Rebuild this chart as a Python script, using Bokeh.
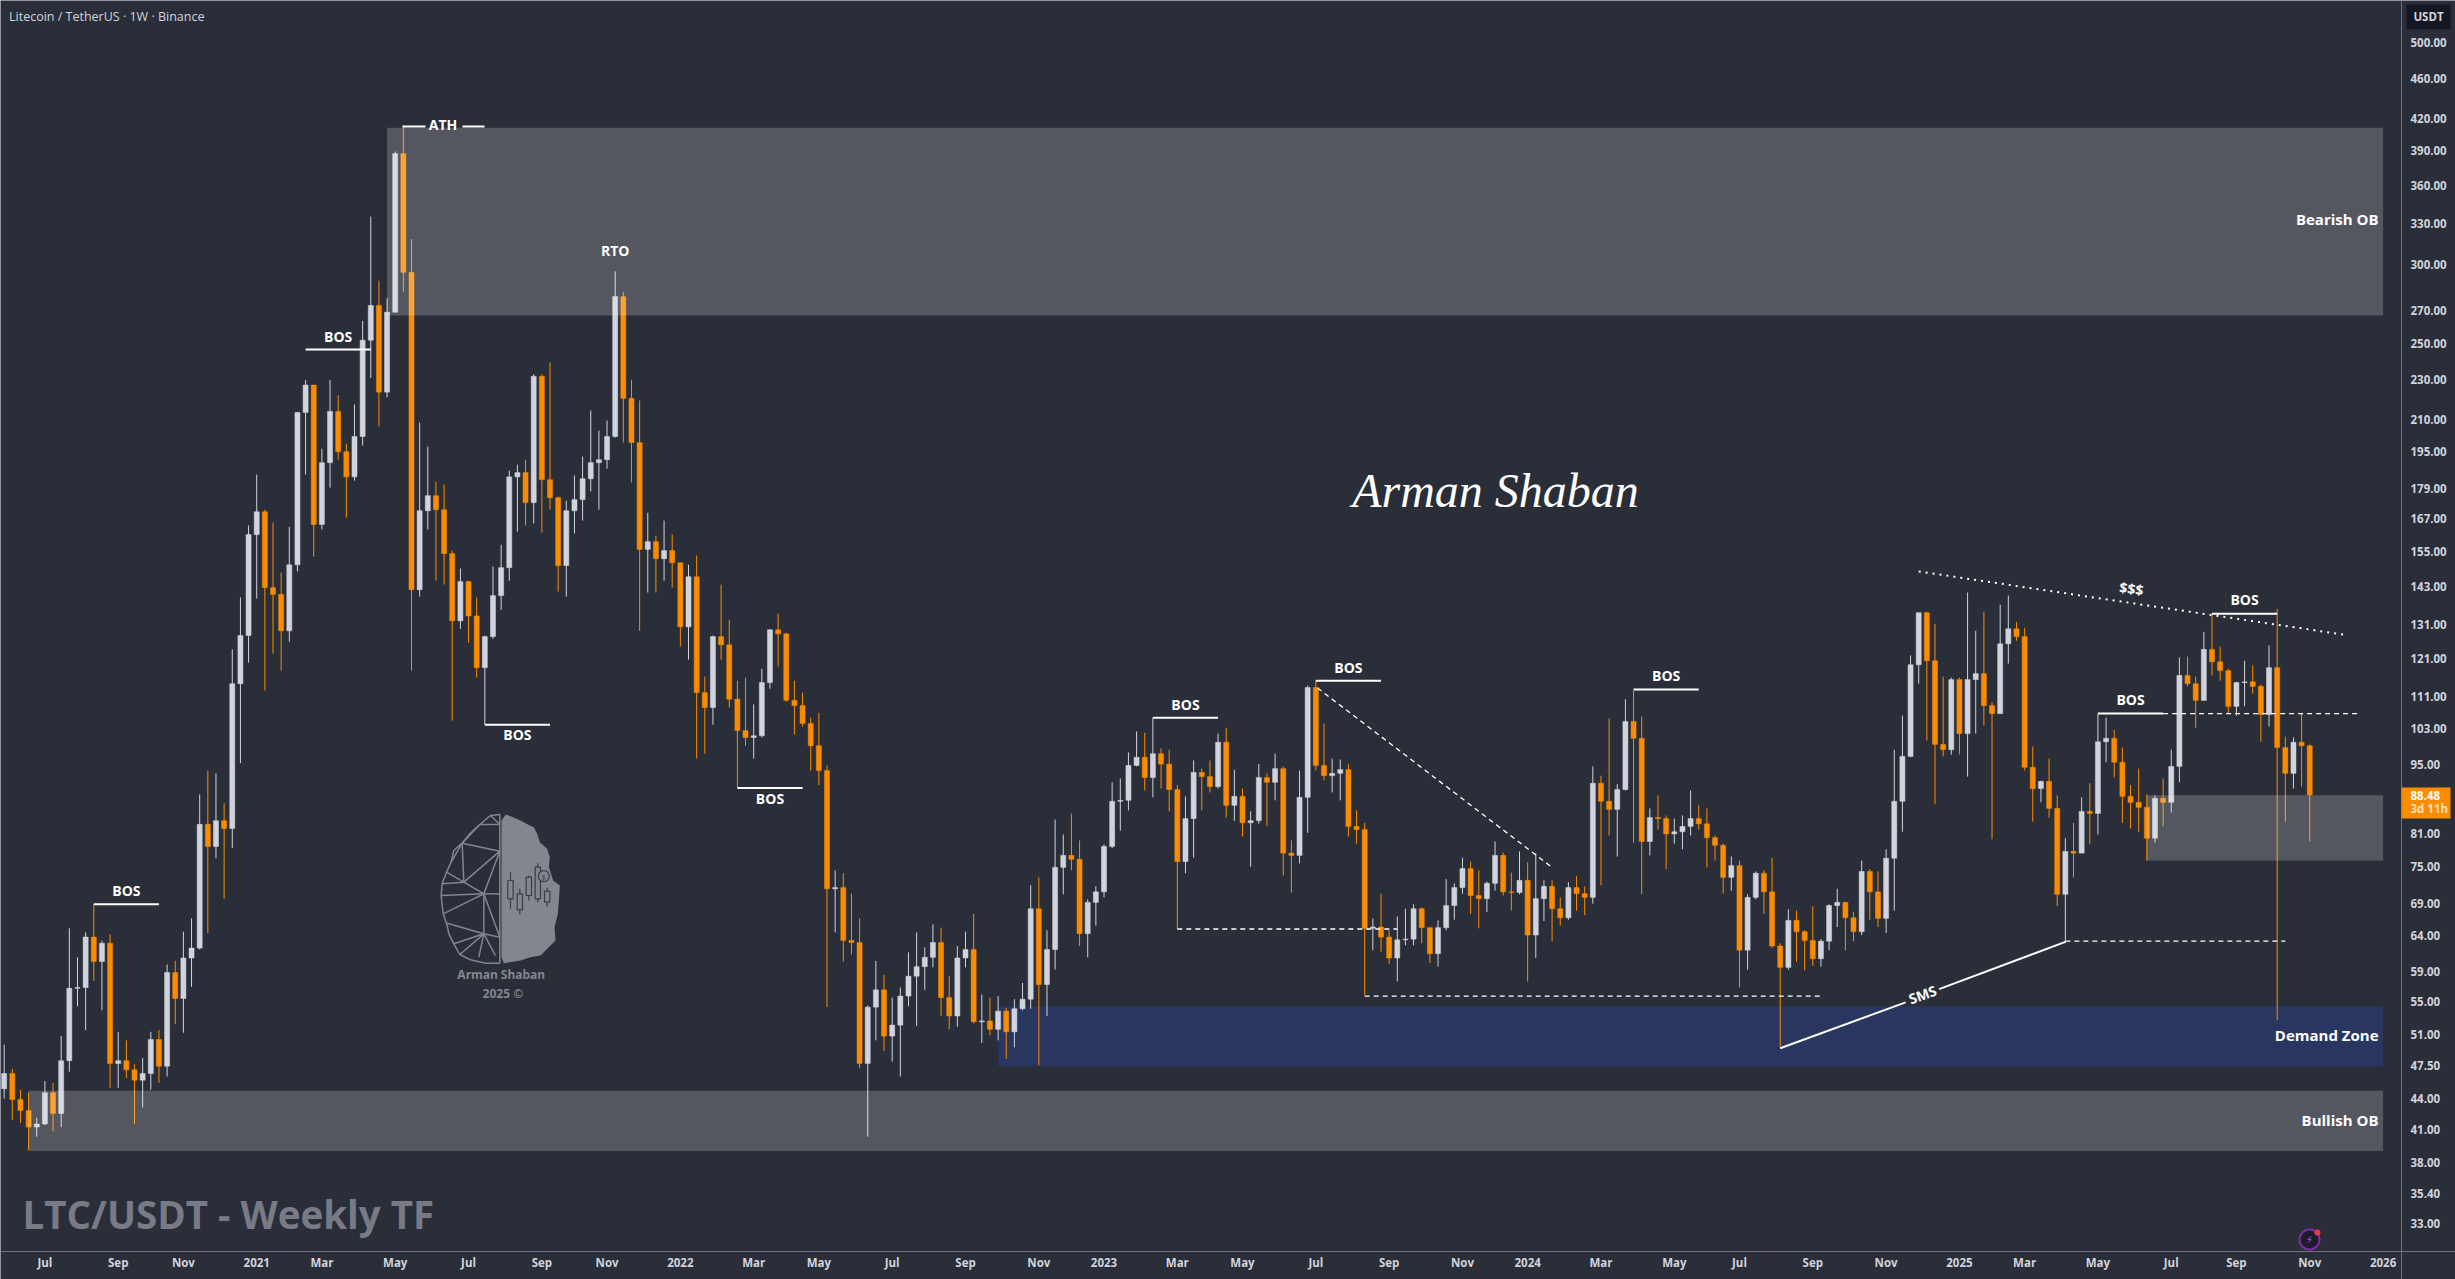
import math
import pandas as pd
from bokeh.core.properties import value
from bokeh.embed import file_html
from bokeh.models import ColumnDataSource, FixedTicker, PrintfTickFormatter, Range1d
from bokeh.plotting import figure
from bokeh.resources import INLINE

# ---------- data (weekly LTC/USDT) ----------
first_week = "2020-06-01"
first_open = 45.0
closes = [
46.6,43.9,42.8,41.2,41.5,44.6,42.5,48.0,56.7,56.8,63.8,60.3,62.9,47.7,48.0,47.0,45.9,46.6,50.4,47.4,
58.8,55.4,60.8,62.2,82.7,78.6,83.4,81.9,114.3,127.7,161.1,169.8,142.6,140.4,129.1,150.3,213.4,227.3,164.9,190.1,
213.9,195,184,201.9,252,273,223.6,268.8,387.2,294.6,141.9,170.2,176.2,170.6,154.2,132.1,144.6,133.6,118.6,127.4,
140,149.3,184,185.8,173.4,231.9,182.8,175.4,150,170.2,174.6,183.2,190.1,191.4,201.9,278.6,220.4,199.1,155.7,158.5,
152.4,155.3,151,130.3,146.2,112,108.2,127.4,125,110.3,102.6,101,101.4,114.6,129.4,128.2,110,108.7,104.3,99.1,
93.6,71.3,71.5,63.3,63,47.7,54.3,56.5,50.8,52.1,55.7,58.3,59.6,60.9,63,55.5,53.2,60.8,62,52.5,
52.6,51.6,53.8,51.3,54.1,55.3,68.1,57.2,62,74.9,77,76.3,64.3,69.1,70.8,78.6,87.2,87.4,94.7,96.5,
92.1,97.3,95,89.6,75.9,83.8,93.2,92.3,90.2,99.9,86.4,88.2,83,83.4,92.1,91.1,94,77.4,77,88,
113.3,94.7,92.5,93,93.8,82.3,81.7,65.1,65.3,63.8,60.8,63.4,63.5,68.1,65.2,61.4,65.2,68.6,71.5,74.7,
70.2,69.7,72.2,77,70.8,70.7,72.7,64.1,69.7,71.7,68.1,66.7,71.5,70.5,69.9,90.9,87.2,85.6,89.6,104.8,
100.8,79.5,84,83.8,80.9,81.3,82.3,83.8,82.8,80.2,78.8,73.2,75.2,61.9,69.9,73.9,70.8,62.5,59.5,66.3,
64.6,63.3,60.7,63.2,68.6,69.1,66.7,64.6,74.2,70.8,66.6,76.5,87.2,96.7,119.4,134.6,120.5,99.4,98.2,115.4,
101.9,115.4,117,108.7,106.7,125.3,129.7,127.4,94.3,89.8,91.3,85.8,70.4,77.7,77.4,85.2,84.8,100,100.8,95.4,
88.2,87,86,80.1,87.8,87,94.5,116.5,114.3,110,123.7,120.2,117.8,108.5,114.6,114.8,113.6,106.5,118.6,98.7,
93,99.9,99.1,88.48]
highs = [
49.8,47.1,44.9,44.6,42.1,45.8,45.6,50.8,65.1,60.9,64.5,68.8,63.3,64.2,51.3,50.3,47.6,48.3,51.3,51.5,
59.9,60.4,64.6,66.6,88.6,93.6,93,86.8,123.7,139.4,164.5,185,170.6,165.6,147.6,164,213.6,230,227.3,196.3,
230,222,198.6,217.4,263.4,335,289,277.5,389,413,318,208.5,197.3,182,180.8,155.3,149,144.9,139.4,127.7,
149.7,157.4,186.7,189.2,191.4,233,233,239.5,175.8,174.2,184.5,192.8,214.4,204.7,209.5,295.3,281.7,230,219.4,169.4,
160.7,166.4,161.1,151,150.3,153.5,116.2,127.7,143.6,132.4,115.1,115.9,109,118.3,129.6,134.3,128.5,115.1,112,105.7,
106.9,94.7,74.4,73.9,70.5,66.6,54.5,60.4,58.5,55.5,56.8,61.6,64.5,62.3,65.7,65.2,58.3,62.5,64.6,67.3,
55.9,55.5,55.7,54.2,55.3,57.4,71.9,73.2,64.8,83.6,80.8,84.8,79.7,69.6,71.7,79,91.1,91.9,97.6,102.4,
102.1,105.7,98.5,98.2,90.5,88.2,95.8,94,95.8,101.9,103.3,93.8,89.8,85.2,95,93,97.3,94.5,79.7,93.6,
113.8,115.1,104.3,96.2,96,95,85.4,83,66.6,70.5,64.8,66.9,68.1,68.8,68.3,65.2,66.3,72.9,72.2,76.6,
75.9,74.4,72.5,79.5,77.5,74,77.7,75.8,77.4,72.7,72.7,69.9,72.4,73.4,71.7,94.5,92.5,105.5,90.7,110.3,
112.5,106,85.8,88.4,84.4,83.8,84.4,89.4,86.4,85.8,80.6,79.1,76.8,76.1,70.4,74.2,74.4,76.6,62.9,68,
67.8,64.8,68.5,63.5,68.8,71.3,69.2,67.6,76.1,74.6,74.2,78.1,98.2,106.2,122,134.6,134.9,131.2,116.2,115.9,
115.9,141,129.1,134.9,109.5,137.1,140,131.8,130,98.9,91.4,96.2,88.4,80.1,83,88,90.9,106.7,105.7,102.8,
98.7,90.5,94,88.6,88.4,91.9,98.2,121.4,121.7,116.2,128.8,134.3,124.5,118.3,114.8,120.5,119.2,114,124.8,135.8,
101.2,101,106.7,99.4]
lows = [
44,41.9,41.6,39.1,40.3,41.4,40.8,41.2,46.8,54.4,51.5,57.7,53.9,45.1,45.1,46.1,41.5,43.1,44.9,45.6,
46.3,52.2,51.2,56.9,62,64.4,76.5,69.7,78.3,95.2,120,139,112.5,122.5,117.8,125.9,148,185,153.1,163,
179.5,191.4,167.5,182.4,197.7,231,206.6,221,268.5,281.7,117.8,139.7,163,144.9,143.6,105,129.7,125.6,115.9,104,
126.8,135.5,144.9,162.2,164.5,165.3,161.9,170.6,141.3,139.7,161.5,166.4,177.9,170.6,187.5,201.4,199.1,181.6,129.1,141,
141,144.9,142.6,124.5,120.8,96.2,97.3,104,120.8,108.2,90,99.1,96.2,101,113,118.9,109.7,101.7,103.6,93.6,
90.5,54.3,64.5,60.3,61.3,47.2,40.3,50.3,49.1,47.9,46.3,54.4,52,56.5,59.5,53.2,51.6,51.9,59.5,52.3,
50,50.9,50.3,48.2,49.5,53.9,54.1,47.5,53.2,59.2,70.4,74.4,62.5,60.9,65.5,69.9,78.3,81.5,85.4,94.5,
89.4,88,89.8,85.2,65,73.9,76.6,85.4,89,89.8,84,83.4,80.4,75,82.8,82.4,87.4,73.5,70.7,75.6,
81.1,93.6,91.5,89,87.4,80.4,79.1,55.8,61.9,61.7,60,57.6,62.6,62.6,62.9,60.1,59.6,64.8,66.4,70.5,
67.3,65.1,67.6,71,70.2,67.8,70.4,57.6,60.8,66.2,63.2,65.5,66.4,67.8,67.1,68.9,71.9,80.6,76.8,89.4,
79.3,70.4,77,81.7,74.6,79.1,78.1,80.6,81.7,74.9,76.1,70.5,71,56.8,59.2,69.6,67.3,62.2,49.5,59.2,
60.3,59.1,59.7,59.6,61.9,65.3,61.9,63.2,64.1,66.4,65.3,64.4,67.8,81.3,96.5,114.3,100.3,86.6,96.7,97.1,
97.1,92.3,101.9,103.8,79.9,106.7,119.7,126.2,93.6,83.2,87,84,68.5,62.9,73.2,77.4,79,80.8,95.4,92.1,
83,81.9,81.3,76.1,79.3,82.3,85,91.1,113.6,103.3,110,116.5,115.1,106.7,106.2,108.5,111.7,100,103.6,52.7,
83.2,89.8,90.2,79.5]

price_ticks = [500,460,420,390,360,330,300,270,250,230,210,195,179,167,155,143,131,121,111,103,
               95,81,75,69,64,59,55,51,47.5,44,41,38,35.4,33]
tick_dates = ["2020-07-06","2020-09-07","2020-11-02","2021-01-04","2021-03-01","2021-05-03","2021-07-05",
              "2021-09-06","2021-11-01","2022-01-03","2022-03-07","2022-05-02","2022-07-04","2022-09-05",
              "2022-11-07","2023-01-02","2023-03-06","2023-05-01","2023-07-03","2023-09-04","2023-11-06",
              "2024-01-01","2024-03-04","2024-05-06","2024-07-01","2024-09-02","2024-11-04","2025-01-06",
              "2025-03-03","2025-05-05","2025-07-07","2025-09-01","2025-11-03","2026-01-05"]
tick_labels = ["Jul","Sep","Nov","2021","Mar","May","Jul","Sep","Nov","2022","Mar","May","Jul","Sep","Nov",
               "2023","Mar","May","Jul","Sep","Nov","2024","Mar","May","Jul","Sep","Nov","2025","Mar","May",
               "Jul","Sep","Nov","2026"]

# zones: left week, right week, top price, bottom price
grey_left = [47, 3, 263]
grey_right = [292, 292, 292]
grey_top = [411, 44.8, 88.4]
grey_bottom = [266.8, 39.0, 76.1]
demand_left, demand_right, demand_top, demand_bottom = 122, 292, 54.4, 47.4

bos_left = [11, 37, 59, 90, 141, 161, 200, 257, 271]
bos_right = [19, 45, 67, 98, 149, 169, 208, 265, 279]
bos_price = [68.8, 246.7, 104, 89.9, 105.7, 115.1, 112.8, 106.7, 134.3]
bos_offset = [-14, -13, 10, 10, -13, -13, -14, -14, -14]

dash_x0 = [161.2, 144, 167, 253, 265]
dash_x1 = [190, 171, 223, 280, 289]
dash_y0 = [113.2, 65, 55.7, 63.2, 106.7]
dash_y1 = [74.9, 65, 55.7, 63.2, 106.7]

# ---------- scale helpers ----------
STEP, X0 = 8.147, 3.66
PX_PER_LN, Y500 = 434.5, 42.0
def wx(px): return (px - X0) / STEP
def wy(py): return 500 * math.exp(-(py - Y500) / PX_PER_LN)

BG, UP, DOWN, TXT = "#2a2e39", "#d1d4dc", "#fb8c00", "#d1d4dc"
FONT = "Open Sans"
n = len(closes)
weeks = list(range(n))
opens = [first_open] + closes[:-1]
src = ColumnDataSource(dict(
    x=weeks, open=opens, close=closes, high=highs, low=lows,
    top=[max(o, c) for o, c in zip(opens, closes)],
    bottom=[min(o, c) for o, c in zip(opens, closes)],
    color=[UP if c >= o else DOWN for o, c in zip(opens, closes)]))

p = figure(frame_width=2455, frame_height=1279, output_backend="svg", toolbar_location=None,
           y_axis_type="log", y_axis_location="right",
           x_range=Range1d(wx(0), wx(2455)), y_range=Range1d(wy(1279), wy(0)),
           min_border_left=0, min_border_top=0, min_border_right=0, min_border_bottom=0,
           background_fill_color=BG, border_fill_color=BG, outline_line_color=None)
p.grid.visible = False

# axes, pinned inside the frame so that the strip beyond them can carry the price tag
AX = "#6f727d"
p.yaxis.ticker = FixedTicker(ticks=price_ticks)
p.yaxis.formatter = PrintfTickFormatter(format="%.2f")
start = pd.Timestamp(first_week)
tick_weeks = [(pd.Timestamp(d) - start).days / 7 for d in tick_dates]
p.xaxis.ticker = FixedTicker(ticks=tick_weeks)
p.xaxis.major_label_overrides = dict(zip(tick_weeks, tick_labels))
p.yaxis.fixed_location = wx(2401)
p.xaxis.fixed_location = wy(1251)
for ax in (p.xaxis[0], p.yaxis[0]):
    ax.axis_line_color = AX
    ax.major_tick_line_color = None
    ax.minor_tick_line_color = None
    ax.major_tick_out = 0
    ax.major_tick_in = 0
    ax.major_label_text_color = TXT
    ax.major_label_text_font = FONT
    ax.major_label_text_font_size = "11.5px"
    ax.major_label_text_font_style = "bold"
p.yaxis.major_label_standoff = 9
p.xaxis.major_label_standoff = 3

# demand zone under the candles
p.quad(left=[demand_left], right=[demand_right], top=[demand_top], bottom=[demand_bottom],
       fill_color="#29365f", line_color=None)

# candles
p.segment("x", "high", "x", "low", source=src, line_color="color", line_width=1)
p.vbar(x="x", top="top", bottom="bottom", width=0.62, source=src, fill_color="color", line_color="color", line_width=0.5)

# grey zones above the candles
p.quad(left=grey_left, right=grey_right, top=grey_top, bottom=grey_bottom,
       fill_color="#ffffff", fill_alpha=0.2, line_color=None)

# BOS levels
p.segment(bos_left, bos_price, bos_right, bos_price, line_color="#ffffff", line_width=2)
p.text(x=[(a + b) / 2 for a, b in zip(bos_left, bos_right)], y=bos_price, text=["BOS"] * len(bos_price),
       y_offset=bos_offset, text_color="#ffffff", text_font=value(FONT), text_font_style="bold",
       text_font_size="14px", text_align="center", text_baseline="middle")

# dashed levels
p.segment(dash_x0, dash_y0, dash_x1, dash_y1, line_color="#ffffff", line_width=1.3, line_dash="5 4")

# ATH marker
p.segment([wx(402), wx(462)], [412, 412], [wx(425), wx(484)], [412, 412], line_color="#ffffff", line_width=2)
p.text([wx(442.5)], [wy(124)], text=["ATH"], text_color="#ffffff", text_font=value(FONT), text_font_style="bold",
       text_font_size="14px", text_align="center", text_baseline="middle")
p.text([75], [wy(250)], text=["RTO"], text_color="#ffffff", text_font=value(FONT), text_font_style="bold",
       text_font_size="14px", text_align="center", text_baseline="middle")

# liquidity line
p.segment([235], [148], [287.1], [128], line_color="#ffffff", line_width=2, line_dash="2 5")
p.text([wx(2131)], [wy(588)], text=["$$$"], angle=-0.14, text_color="#ffffff", text_font=value(FONT),
       text_font_style="bold", text_font_size="14px", text_align="center", text_baseline="middle")

# SMS line
p.segment([218, 237.5], [49.4, 56.6], [233.4, 253], [54.9, 63.1], line_color="#ffffff", line_width=2)
p.text([wx(1922)], [wy(994)], text=["SMS"], angle=0.35, text_color="#ffffff", text_font=value(FONT),
       text_font_style="bold", text_font_size="14px", text_align="center", text_baseline="middle")

# zone captions
p.text([wx(2378)] * 3, [wy(218), wy(1034), wy(1119)], text=["Bearish OB", "Demand Zone", "Bullish OB"],
       text_color="#ffffff", text_font=value(FONT), text_font_style="bold", text_font_size="15px",
       text_align="right", text_baseline="middle")

# chart title and watermark
p.text([wx(8.5)], [wy(16)], text=["Litecoin / TetherUS · 1W · Binance"], text_color=TXT, text_font=value(FONT),
       text_font_size="12.5px", text_align="left", text_baseline="middle")
p.text([wx(22)], [wy(1213)], text=["LTC/USDT - Weekly TF"], text_color="#787b86", text_font=value(FONT),
       text_font_style="bold", text_font_size="38.5px", text_align="left", text_baseline="middle")

# signature
p.text([wx(1495)], [wy(490)], text=["Arman Shaban"], text_color="#ffffff", text_font=value("Liberation Serif"),
       text_font_style="italic", text_font_size="48px", text_align="center", text_baseline="middle")

# brain logo
LOGO = "#83868f"
def lx(z): return wx(420 + z / 3)
def ly(z): return wy(800 + z / 3)
right_half = [(243,60),(256,42),(272,48),(300,60),(322,72),(340,80),(350,100),(358,125),(380,145),(388,170),
              (385,200),(398,240),(418,255),(415,300),(412,340),(402,380),(405,420),(385,440),(360,465),
              (330,470),(300,480),(250,488),(243,470)]
p.patch([lx(a) for a, b in right_half], [ly(b) for a, b in right_half], fill_color=LOGO, line_color=None)
left_outline = [(238,42),(210,45),(178,72),(148,100),(125,128),(100,150),(92,185),(78,215),(65,250),(62,285),
                (68,340),(80,375),(85,400),(100,430),(118,462),(150,478),(195,488),(238,488)]
p.line([lx(a) for a, b in left_outline], [ly(b) for a, b in left_outline], line_color=LOGO, line_width=1.5)
wires = [((238,152),(125,128)),((178,72),(125,128)),((238,152),(130,245)),((78,215),(130,245)),((65,250),(130,245)),
         ((125,128),(130,245)),((92,185),(125,128)),((62,285),(190,280)),((68,340),(190,280)),((130,245),(190,280)),
         ((238,152),(190,280)),((190,280),(238,280)),((190,280),(190,400)),((190,280),(238,410)),((80,368),(190,400)),
         ((100,430),(190,400)),((118,462),(190,400)),((175,470),(190,400)),((190,400),(238,410)),((190,400),(225,465)),
         ((210,45),(238,72)),((178,72),(238,72)),((238,42),(238,488))]
p.segment([lx(a[0]) for a, b in wires], [ly(a[1]) for a, b in wires],
          [lx(b[0]) for a, b in wires], [ly(b[1]) for a, b in wires], line_color=LOGO, line_width=1.5)
logo_cx = [270, 298, 325, 352, 380]
logo_wt = [215, 265, 225, 188, 262]
logo_wb = [325, 342, 300, 305, 318]
logo_bt = [240, 280, 230, 200, 272]
logo_bb = [295, 328, 285, 295, 305]
p.segment([lx(c) for c in logo_cx], [ly(t) for t in logo_wt], [lx(c) for c in logo_cx], [ly(t) for t in logo_wb],
          line_color="#3a3d47", line_width=1.2)
p.quad(left=[lx(c - 8) for c in logo_cx], right=[lx(c + 8) for c in logo_cx], top=[ly(t) for t in logo_bt],
       bottom=[ly(t) for t in logo_bb], fill_color=LOGO, line_color="#3a3d47", line_width=1.2)
p.scatter([lx(370)], [ly(227)], size=11, marker="circle", fill_color=LOGO, line_color="#3a3d47", line_width=1.2)
p.text([lx(370)], [ly(227)], text=["$"], text_color="#3a3d47", text_font=value(FONT), text_font_size="8px",
       text_align="center", text_baseline="middle")
p.text([lx(242)], [ly(523)], text=["Arman Shaban"], text_color=LOGO, text_font=value("Noto Sans"),
       text_font_style="bold", text_font_size="12px", text_align="center", text_baseline="middle")
p.text([lx(247)], [ly(580)], text=["2025 ©"], text_color=LOGO, text_font=value("Noto Sans"),
       text_font_style="bold", text_font_size="12px", text_align="center", text_baseline="middle")

# small icon near the last candle
p.scatter([wx(2309)], [wy(1239)], size=20, marker="circle", fill_color="#1f1b2e", line_color="#7b2f9e", line_width=2)
p.text([wx(2309)], [wy(1239)], text=["⚡"], text_color="#a35fd0", text_font=value("DejaVu Sans"), text_font_size="10px",
       text_align="center", text_baseline="middle")
p.scatter([wx(2317)], [wy(1232)], size=6, marker="circle", fill_color="#f23645", line_color=None)

# price tag and currency button, in the strip right of the price axis
p.quad(left=[wx(2401), wx(2406)], right=[wx(2450), wx(2450)], top=[wy(787), wy(4)], bottom=[wy(818), wy(29)],
       fill_color=[DOWN, "#131722"], line_color=None, level="overlay")
p.text([wx(2410), wx(2410), wx(2428)], [wy(795), wy(808), wy(16)], text=["88.48", "3d 11h", "USDT"],
       text_color=["#ffffff", "#ffe0bd", TXT], text_font=value(FONT), text_font_size="11.5px",
       text_font_style="bold", text_align=["left", "left", "center"], text_baseline="middle", level="overlay")

open("out.html", "w", encoding="utf-8").write(file_html(p, INLINE))
